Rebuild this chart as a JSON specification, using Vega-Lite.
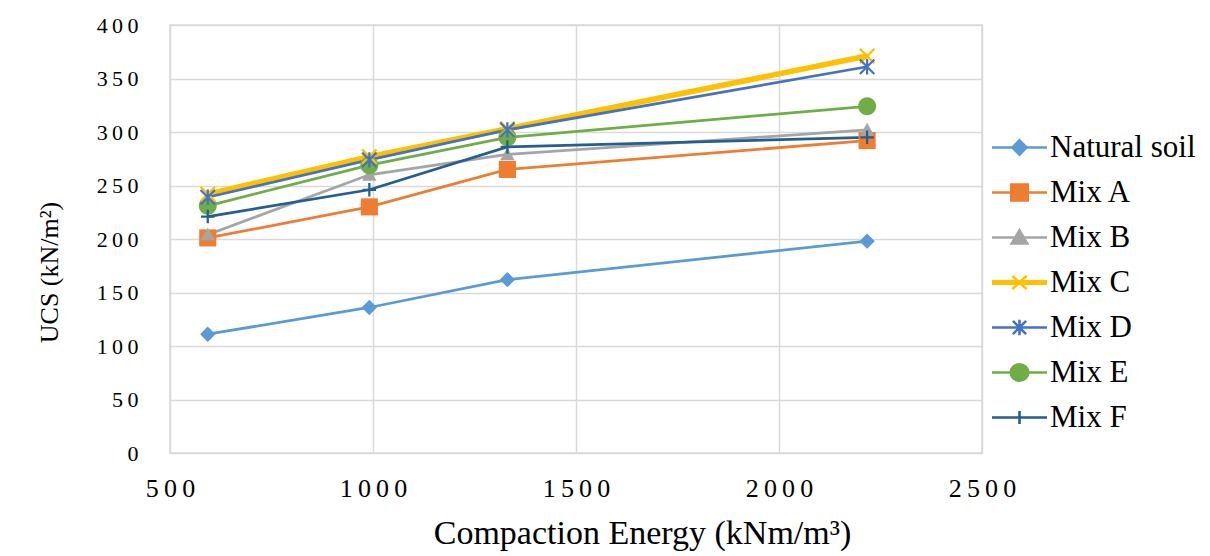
{
  "$schema": "https://vega.github.io/schema/vega-lite/v6.json",
  "width": 812,
  "height": 428,
  "autosize": {"type": "none"},
  "padding": {"left": 170, "top": 25, "right": 228, "bottom": 103},
  "background": "white",
  "config": {
    "view": {"stroke": "#d9d9d9", "strokeWidth": 1.5},
    "font": "Liberation Serif, Times New Roman, serif",
    "legend": {
      "orient": "none",
      "legendX": 834,
      "legendY": 107,
      "direction": "vertical",
      "padding": 0,
      "symbolSize": 484,
      "symbolOpacity": 1,
      "symbolStrokeWidth": 2.6,
      "labelFont": "Liberation Serif, Times New Roman, serif",
      "labelFontSize": 31,
      "labelColor": "#000000",
      "labelOffset": 15,
      "rowPadding": 13,
      "labelLimit": 300
    }
  },
  "data": {
    "values": [
      {"series": "Natural soil", "energy": 593, "ucs": 111},
      {"series": "Natural soil", "energy": 991, "ucs": 136},
      {"series": "Natural soil", "energy": 1331, "ucs": 162},
      {"series": "Natural soil", "energy": 2217, "ucs": 198},
      {"series": "Mix A", "energy": 593, "ucs": 201},
      {"series": "Mix A", "energy": 991, "ucs": 230},
      {"series": "Mix A", "energy": 1331, "ucs": 265},
      {"series": "Mix A", "energy": 2217, "ucs": 292},
      {"series": "Mix B", "energy": 593, "ucs": 204},
      {"series": "Mix B", "energy": 991, "ucs": 260},
      {"series": "Mix B", "energy": 1331, "ucs": 279},
      {"series": "Mix B", "energy": 2217, "ucs": 302},
      {"series": "Mix C", "energy": 593, "ucs": 242},
      {"series": "Mix C", "energy": 991, "ucs": 277},
      {"series": "Mix C", "energy": 1331, "ucs": 303},
      {"series": "Mix C", "energy": 2217, "ucs": 371},
      {"series": "Mix D", "energy": 593, "ucs": 239},
      {"series": "Mix D", "energy": 991, "ucs": 274},
      {"series": "Mix D", "energy": 1331, "ucs": 302},
      {"series": "Mix D", "energy": 2217, "ucs": 361},
      {"series": "Mix E", "energy": 593, "ucs": 231},
      {"series": "Mix E", "energy": 991, "ucs": 269},
      {"series": "Mix E", "energy": 1331, "ucs": 295},
      {"series": "Mix E", "energy": 2217, "ucs": 324},
      {"series": "Mix F", "energy": 593, "ucs": 221},
      {"series": "Mix F", "energy": 991, "ucs": 246},
      {"series": "Mix F", "energy": 1331, "ucs": 286},
      {"series": "Mix F", "energy": 2217, "ucs": 295}
    ]
  },
  "encoding": {
    "x": {
      "field": "energy",
      "type": "quantitative",
      "scale": {"domain": [500, 2500], "nice": false, "zero": false},
      "axis": {
        "values": [500, 1000, 1500, 2000, 2500],
        "format": "d",
        "grid": true,
        "gridColor": "#d9d9d9",
        "gridWidth": 1.5,
        "domain": false,
        "ticks": false,
        "labelFlush": false,
        "labelFont": "Liberation Serif, Times New Roman, serif",
        "labelFontSize": 26,
        "labelColor": "#000000",
        "labelPadding": 22,
        "labelExpr": "join(split(datum.label, ''), '\u2009')",
        "title": "Compaction Energy (kNm/m\u00b3)",
        "titleFont": "Liberation Serif, Times New Roman, serif",
        "titleFontSize": 34,
        "titleFontWeight": "normal",
        "titleColor": "#000000",
        "titleX": 472,
        "titleY": 90,
        "titleAlign": "center",
        "titleBaseline": "alphabetic"
      }
    },
    "y": {
      "field": "ucs",
      "type": "quantitative",
      "scale": {"domain": [0, 400], "nice": false},
      "axis": {
        "values": [0, 50, 100, 150, 200, 250, 300, 350, 400],
        "format": "d",
        "grid": true,
        "gridColor": "#d9d9d9",
        "gridWidth": 1.5,
        "domain": false,
        "ticks": false,
        "labelFont": "Liberation Serif, Times New Roman, serif",
        "labelFontSize": 22,
        "labelColor": "#000000",
        "labelPadding": 32,
        "labelExpr": "join(split(datum.label, ''), '\u2009')",
        "title": "UCS (kN/m\u00b2)",
        "titleFont": "Liberation Serif, Times New Roman, serif",
        "titleFontSize": 26,
        "titleFontWeight": "normal",
        "titleColor": "#000000",
        "titleX": -113,
        "titleY": 247,
        "titleAngle": -90,
        "titleAlign": "center",
        "titleBaseline": "alphabetic"
      }
    }
  },
  "layer": [
    {
      "transform": [{"filter": {"field": "series", "oneOf": ["Natural soil", "Mix A", "Mix B"]}}],
      "mark": {"type": "line", "strokeWidth": 2.75},
      "encoding": {
        "color": {
          "field": "series",
          "type": "nominal",
          "scale": {
            "domain": ["Natural soil", "Mix A", "Mix B", "Mix C", "Mix D", "Mix E", "Mix F"],
            "range": ["#5B9BD5", "#ED7D31", "#A5A5A5", "#FFC000", "#4472C4", "#70AD47", "#255E91"]
          },
          "legend": null
        }
      }
    },
    {
      "transform": [{"filter": {"field": "series", "equal": "Mix C"}}],
      "mark": {"type": "line", "strokeWidth": 5.5},
      "encoding": {
        "color": {
          "field": "series",
          "type": "nominal",
          "scale": {
            "domain": ["Natural soil", "Mix A", "Mix B", "Mix C", "Mix D", "Mix E", "Mix F"],
            "range": ["#5B9BD5", "#ED7D31", "#A5A5A5", "#FFC000", "#4472C4", "#70AD47", "#255E91"]
          },
          "legend": null
        }
      }
    },
    {
      "transform": [{"filter": {"field": "series", "oneOf": ["Mix D", "Mix E", "Mix F"]}}],
      "mark": {"type": "line", "strokeWidth": 2.75},
      "encoding": {
        "color": {
          "field": "series",
          "type": "nominal",
          "scale": {
            "domain": ["Natural soil", "Mix A", "Mix B", "Mix C", "Mix D", "Mix E", "Mix F"],
            "range": ["#5B9BD5", "#ED7D31", "#A5A5A5", "#FFC000", "#4472C4", "#70AD47", "#255E91"]
          },
          "legend": null
        }
      }
    },
    {
      "transform": [{"filter": {"field": "series", "oneOf": ["Natural soil", "Mix A", "Mix B", "Mix E"]}}],
      "mark": {"type": "point", "filled": true, "opacity": 1, "size": 324, "strokeWidth": 0},
      "encoding": {
        "color": {
          "field": "series",
          "type": "nominal",
          "scale": {
            "domain": ["Natural soil", "Mix A", "Mix B", "Mix C", "Mix D", "Mix E", "Mix F"],
            "range": ["#5B9BD5", "#ED7D31", "#A5A5A5", "#FFC000", "#4472C4", "#70AD47", "#255E91"]
          },
          "legend": null
        },
        "shape": {
          "field": "series",
          "type": "nominal",
          "scale": {
            "domain": ["Natural soil", "Mix A", "Mix B", "Mix C", "Mix D", "Mix E", "Mix F"],
            "range": [
              "M0,-0.85L0.85,0L0,0.85L-0.85,0Z",
              "M-0.95,-0.95H0.95V0.95H-0.95Z",
              "M0,-0.8L0.8,0.65H-0.8Z",
              "M-0.8,-0.8L0.8,0.8M-0.8,0.8L0.8,-0.8",
              "M-0.8,-0.8L0.8,0.8M-0.8,0.8L0.8,-0.8M0,-0.85V0.85",
              "M-1,0A1,1,0,1,1,1,0A1,1,0,1,1,-1,0Z",
              "M-0.75,0H0.75M0,-0.75V0.75"
            ]
          },
          "legend": null
        }
      }
    },
    {
      "transform": [{"filter": {"field": "series", "oneOf": ["Mix C", "Mix D", "Mix F"]}}],
      "mark": {"type": "point", "filled": false, "opacity": 1, "size": 324, "strokeWidth": 2.25},
      "encoding": {
        "color": {
          "field": "series",
          "type": "nominal",
          "scale": {
            "domain": ["Natural soil", "Mix A", "Mix B", "Mix C", "Mix D", "Mix E", "Mix F"],
            "range": ["#5B9BD5", "#ED7D31", "#A5A5A5", "#FFC000", "#4472C4", "#70AD47", "#255E91"]
          },
          "legend": null
        },
        "shape": {
          "field": "series",
          "type": "nominal",
          "scale": {
            "domain": ["Natural soil", "Mix A", "Mix B", "Mix C", "Mix D", "Mix E", "Mix F"],
            "range": [
              "M0,-0.85L0.85,0L0,0.85L-0.85,0Z",
              "M-0.95,-0.95H0.95V0.95H-0.95Z",
              "M0,-0.8L0.8,0.65H-0.8Z",
              "M-0.8,-0.8L0.8,0.8M-0.8,0.8L0.8,-0.8",
              "M-0.8,-0.8L0.8,0.8M-0.8,0.8L0.8,-0.8M0,-0.85V0.85",
              "M-1,0A1,1,0,1,1,1,0A1,1,0,1,1,-1,0Z",
              "M-0.75,0H0.75M0,-0.75V0.75"
            ]
          },
          "legend": null
        }
      }
    },
    {
      "mark": {"type": "point", "opacity": 0, "size": 484, "strokeWidth": 2.75},
      "encoding": {
        "stroke": {
          "field": "series",
          "type": "nominal",
          "scale": {
            "domain": ["Natural soil", "Mix A", "Mix B", "Mix C", "Mix D", "Mix E", "Mix F"],
            "range": ["#5B9BD5", "#ED7D31", "#A5A5A5", "#FFC000", "#4472C4", "#70AD47", "#255E91"]
          },
          "legend": {"title": null}
        },
        "fill": {
          "field": "series",
          "type": "nominal",
          "scale": {
            "domain": ["Natural soil", "Mix A", "Mix B", "Mix C", "Mix D", "Mix E", "Mix F"],
            "range": ["#5B9BD5", "#ED7D31", "#A5A5A5", "transparent", "transparent", "#70AD47", "transparent"]
          },
          "legend": {"title": null}
        },
        "shape": {
          "field": "series",
          "type": "nominal",
          "scale": {
            "domain": ["Natural soil", "Mix A", "Mix B", "Mix C", "Mix D", "Mix E", "Mix F"],
            "range": [
              "M-2.5,0H2.5M0,-0.64L0.64,0L0,0.64L-0.64,0Z",
              "M-2.5,0H2.5M-0.75,-0.72H0.75V0.72H-0.75Z",
              "M-2.5,0H2.5M0,-0.65L0.7,0.55H-0.7Z",
              "M-2.5,0H2.5M-2.5,0.1H2.5M-2.5,-0.1H2.5M-0.65,-0.6L0.65,0.6M-0.65,0.6L0.65,-0.6",
              "M-2.5,0H2.5M-0.6,-0.6L0.6,0.6M-0.6,0.6L0.6,-0.6M0,-0.7V0.7",
              "M-2.5,0H2.5M-0.8,0A0.8,0.75,0,1,1,0.8,0A0.8,0.75,0,1,1,-0.8,0Z",
              "M-2.5,0H2.5M0,-0.6V0.6"
            ]
          },
          "legend": {"title": null}
        }
      }
    }
  ],
  "resolve": {
    "scale": {"shape": "independent", "color": "independent", "fill": "independent", "stroke": "independent"}
  }
}
